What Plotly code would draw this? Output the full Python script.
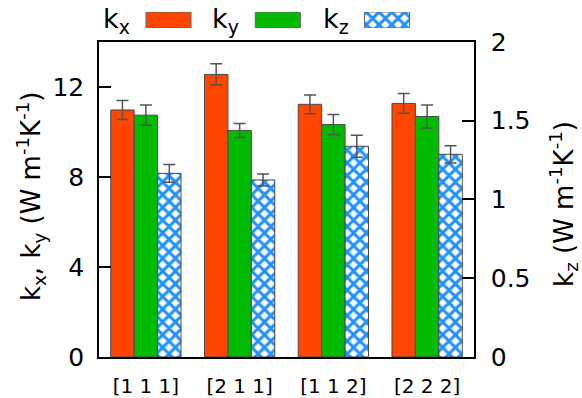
import plotly.graph_objects as go

# Thermal conductivity along x, y (left axis) and z (right axis) per direction
categories = ["[1 1 1]", "[2 1 1]", "[1 1 2]", "[2 2 2]"]
kx = [10.98, 12.56, 11.23, 11.27]
kx_err = [0.42, 0.47, 0.42, 0.44]
ky = [10.75, 10.07, 10.33, 10.69]
ky_err = [0.45, 0.31, 0.45, 0.51]
kz = [1.166, 1.124, 1.338, 1.287]
kz_err = [0.057, 0.038, 0.070, 0.055]

left_ticks = [0, 4, 8, 12]
right_ticks = [0, 0.5, 1, 1.5, 2]

RED = "#FF4500"
GREEN = "#00BB00"
BLUE = "#1E90FF"
EDGE = "#4a4a4a"
ERR = "#555555"
FONT = "DejaVu Sans"

pos = list(range(len(categories)))
bw = 0.25

hatch = dict(shape="x", fgcolor=BLUE, bgcolor="white", size=9,
             solidity=0.55, fgopacity=1)

fig = go.Figure()

def err(vals):
    return dict(type="data", array=vals, visible=True, color=ERR,
                thickness=1.5, width=6)

fig.add_trace(go.Bar(x=pos, y=kx, width=bw, offset=-1.5 * bw,
                     marker=dict(color=RED, line=dict(color=EDGE, width=1)),
                     error_y=err(kx_err), yaxis="y", showlegend=False))
fig.add_trace(go.Bar(x=pos, y=ky, width=bw, offset=-0.5 * bw,
                     marker=dict(color=GREEN, line=dict(color=EDGE, width=1)),
                     error_y=err(ky_err), yaxis="y", showlegend=False))
fig.add_trace(go.Bar(x=pos, y=kz, width=bw, offset=0.5 * bw,
                     marker=dict(color=BLUE, line=dict(color=EDGE, width=1),
                                 pattern=hatch),
                     error_y=err(kz_err), yaxis="y2", showlegend=False))

# Key swatches drawn on a small helper axis above the plot
key_colors = [RED, GREEN, BLUE]
key_shapes = ["", "", "x"]
for i, (c, s) in enumerate(zip(key_colors, key_shapes)):
    mk = dict(color=c, line=dict(color="#666666", width=1))
    if s:
        mk["pattern"] = hatch
    fig.add_trace(go.Bar(x=[i], y=[1], width=0.412, marker=mk,
                         xaxis="x3", yaxis="y3", showlegend=False,
                         hoverinfo="skip"))

key_labels = ["k<sub>x</sub>", "k<sub>y</sub>", "k<sub>z</sub>"]
key_text_x = [0.047, 0.338, 0.631]
for lbl, xx in zip(key_labels, key_text_x):
    fig.add_annotation(text=lbl, x=xx, y=0.955, xref="paper", yref="paper",
                       xanchor="center", yanchor="middle", showarrow=False,
                       font=dict(family=FONT, size=27, color="black"))

fig.add_annotation(text="k<sub>x</sub>, k<sub>y</sub> (W m<sup>-1</sup>K<sup>-1</sup>)",
                   x=-0.181, y=0.455, xref="paper", yref="paper",
                   xanchor="center", yanchor="middle", textangle=-90,
                   showarrow=False, font=dict(family=FONT, size=26, color="black"))
fig.add_annotation(text="k<sub>z</sub> (W m<sup>-1</sup>K<sup>-1</sup>)",
                   x=1.24, y=0.435, xref="paper", yref="paper",
                   xanchor="center", yanchor="middle", textangle=-90,
                   showarrow=False, font=dict(family=FONT, size=26, color="black"))

fig.update_layout(
    width=582, height=398,
    margin=dict(l=99, r=108, t=5, b=41, autoexpand=False),
    paper_bgcolor="white", plot_bgcolor="white",
    barmode="overlay",
    font=dict(family=FONT, color="black"),
    xaxis=dict(domain=[0, 1], range=[-0.5, 3.5], tickvals=pos, ticktext=categories,
               showline=True, linecolor="black", linewidth=1.5, mirror=True,
               ticks="", showgrid=False, zeroline=False, automargin=False,
               tickfont=dict(family=FONT, size=20), ticklabelstandoff=10),
    yaxis=dict(domain=[0, 0.8949], range=[0, 14], tickvals=left_ticks,
               showline=True, linecolor="black", linewidth=1.5,
               ticks="inside", ticklen=12, tickwidth=1.5, tickcolor="black",
               showgrid=False, zeroline=False, automargin=False,
               tickfont=dict(family=FONT, size=25), ticklabelstandoff=8),
    yaxis2=dict(overlaying="y", side="right", range=[0, 2], tickvals=right_ticks,
                showline=True, linecolor="black", linewidth=1.5,
                ticks="inside", ticklen=12, tickwidth=1.5, tickcolor="black",
                showgrid=False, zeroline=False, automargin=False,
                tickfont=dict(family=FONT, size=25), ticklabelstandoff=10),
    xaxis3=dict(domain=[0, 1], range=[-0.636, 2.795], anchor="y3", visible=False,
                fixedrange=True),
    yaxis3=dict(domain=[0.9347, 0.9801], range=[0, 1], anchor="x3", visible=False,
                fixedrange=True),
)

fig.write_html("out.html")
